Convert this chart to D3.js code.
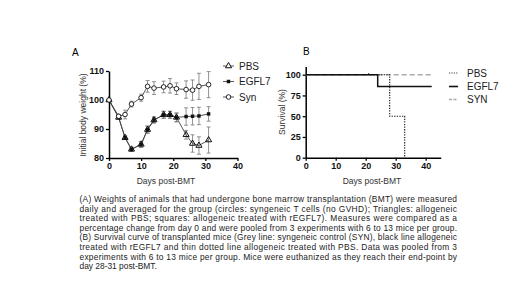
<!DOCTYPE html>
<html><head><meta charset="utf-8">
<script src="https://cdn.jsdelivr.net/npm/d3@7"></script>
<style>body{margin:0;background:#fff}svg{display:block;font-family:"Liberation Sans",Arial,sans-serif}</style>
</head><body><svg id="c" width="520" height="292"></svg>
<script>
// ---- Panel A data ----
const days = [0,3,5,7,10,12,14,17,19,21,24,26,28,31];
const synW   = [100,94.4,95,98.6,100.8,104.7,104.1,104.5,104.9,103.9,103.6,103.4,104.7,105.3];
const synErr = [0,0.5,1.5,1,1.2,2,2.2,2,2.5,2,3,3.5,4.5,4.5];
const pbsW   = [100,94,87,83,84.7,89.8,93.1,94.9,94.9,94,88,85,84.3,86.2];
const pbsErr = [0,0.6,0.6,0.7,1,1.2,1,1.2,1.2,1.5,1.5,3,3,4.5];
const egflW  = [100,94,87,83,84.7,89.8,93.1,94.9,94.9,94,94.3,94.4,94.5,95.2];
const egflErr= [0,0.6,0.6,0.7,1,1.2,1,1.2,1.2,1.5,3,3,3,2.5];
const xTicksA = [0,10,20,30,40];
const yTicksA = [80,90,100,110];
// ---- Panel B data (Kaplan-Meier steps) ----
const survPBS  = [[0,100],[28,100],[28,50],[33,50],[33,0]];
const survEGFL = [[0,100],[24,100],[24,85.7],[42,85.7]];
const survSYN  = [[0,100],[42,100]];
const censorDays = [21];
const xTicksB = [0,10,20,30,40];
const yTicksB = [0,25,50,75,100];
const legendA = ["PBS","EGFL7","Syn"];
const legendB = ["PBS","EGFL7","SYN"];
const caption = [
"(A) Weights of animals that had undergone bone marrow transplantation (BMT) were measured",
"daily and averaged for the group (circles: syngeneic T cells (no GVHD); Triangles: allogeneic",
"treated with PBS; squares: allogeneic treated with rEGFL7). Measures were compared as a",
"percentage change from day 0 and were pooled from 3 experiments with 6 to 13 mice per group.",
"(B) Survival curve of transplanted mice (Grey line: syngeneic control (SYN), black line allogeneic",
"treated with rEGFL7 and thin dotted line allogeneic treated with PBS. Data was pooled from 3",
"experiments with 6 to 13 mice per group. Mice were euthanized as they reach their end-point by",
"day 28-31 post-BMT."
];

const svg = d3.select("#c");

function styleAxis(g){
  g.select(".domain").attr("stroke","#000").attr("stroke-width",1.5);
  g.selectAll(".tick line").attr("stroke","#000").attr("stroke-width",1.3);
  g.selectAll(".tick text").attr("font-size",9).attr("font-weight","bold").attr("fill","#111")
    .attr("font-family","'Liberation Sans',Arial,sans-serif");
}

// ---------- Panel A ----------
const xA = d3.scaleLinear().domain([0,40]).range([109,237.5]);
const yA = d3.scaleLinear().domain([80,110]).range([158,71]);
const gA = svg.append("g");
gA.append("g").attr("transform","translate(0,158)")
  .call(d3.axisBottom(xA).tickValues(xTicksA).tickSize(3).tickSizeOuter(0).tickPadding(2)).call(styleAxis);
gA.append("g").attr("transform","translate(109,0)")
  .call(d3.axisLeft(yA).tickValues(yTicksA).tickSize(3).tickSizeOuter(0).tickPadding(2)).call(styleAxis);
gA.append("text").attr("x",72).attr("y",56).attr("font-size",10).text("A");
gA.append("text").attr("transform","translate(86,115) rotate(-90)").attr("text-anchor","middle")
  .attr("font-size",8.5).attr("fill","#333").text("Initial body weight (%)");
gA.append("text").attr("x",166).attr("y",184).attr("text-anchor","middle")
  .attr("font-size",8.5).attr("fill","#333").text("Days post-BMT");

function series(vals, errs){ return days.map((d,i)=>({d, v:vals[i], e:errs[i]})); }
const sSyn = series(synW,synErr), sPbs = series(pbsW,pbsErr), sEgfl = series(egflW,egflErr);
const lineA = d3.line().x(p=>xA(p.d)).y(p=>yA(p.v));
function errBars(data){
  const g = gA.append("g").attr("stroke","#777").attr("stroke-width",0.8);
  data.filter(p=>p.e>0).forEach(p=>{
    const x=xA(p.d), y1=yA(p.v+p.e), y2=yA(p.v-p.e);
    g.append("line").attr("x1",x).attr("x2",x).attr("y1",y1).attr("y2",y2);
    g.append("line").attr("x1",x-2).attr("x2",x+2).attr("y1",y1).attr("y2",y1);
    g.append("line").attr("x1",x-2).attr("x2",x+2).attr("y1",y2).attr("y2",y2);
  });
}
errBars(sSyn); errBars(sPbs); errBars(sEgfl);
[sSyn,sPbs,sEgfl].forEach(s=>gA.append("path").datum(s).attr("d",lineA)
  .attr("fill","none").attr("stroke","#444").attr("stroke-width",0.9));
const sqSym = d3.symbol().type(d3.symbolSquare).size(12);
const trSym = d3.symbol().type(d3.symbolTriangle).size(16);
gA.append("g").selectAll("path").data(sEgfl).join("path")
  .attr("transform",p=>`translate(${xA(p.d)},${yA(p.v)})`).attr("d",sqSym).attr("fill","#111");
gA.append("g").selectAll("path").data(sPbs).join("path")
  .attr("transform",p=>`translate(${xA(p.d)},${yA(p.v)})`).attr("d",trSym)
  .attr("fill","none").attr("stroke","#111").attr("stroke-width",1);
gA.append("g").selectAll("circle").data(sSyn).join("circle")
  .attr("cx",p=>xA(p.d)).attr("cy",p=>yA(p.v)).attr("r",2.3)
  .attr("fill","#fff").attr("stroke","#111").attr("stroke-width",0.9);

// Legend A
const legAy = [66,81.5,97];
legendA.forEach((name,i)=>{
  const y = legAy[i], g = gA.append("g");
  g.append("line").attr("x1",223).attr("x2",234).attr("y1",y).attr("y2",y).attr("stroke","#444").attr("stroke-width",0.9);
  if(i===0) g.append("path").attr("transform",`translate(228.5,${y})`).attr("d",trSym).attr("fill","#fff").attr("stroke","#111");
  if(i===1) g.append("path").attr("transform",`translate(228.5,${y})`).attr("d",sqSym).attr("fill","#111");
  if(i===2) g.append("circle").attr("cx",228.5).attr("cy",y).attr("r",2.3).attr("fill","#fff").attr("stroke","#111").attr("stroke-width",0.9);
  g.append("text").attr("x",239).attr("y",y+3.5).attr("font-size",10).attr("fill","#222").text(name);
});

// ---------- Panel B ----------
const xB = d3.scaleLinear().domain([0,45]).range([305.7,440.7]);
const yB = d3.scaleLinear().domain([0,110]).range([157.7,66.4]);
const gB = svg.append("g");
gB.append("g").attr("transform","translate(0,157.7)")
  .call(d3.axisBottom(xB).tickValues(xTicksB).tickSize(3).tickSizeOuter(0).tickPadding(2)).call(styleAxis);
gB.append("g").attr("transform","translate(305.7,0)")
  .call(d3.axisLeft(yB).tickValues(yTicksB).tickSize(3).tickSizeOuter(0).tickPadding(2)).call(styleAxis);
gB.append("text").attr("x",303).attr("y",55).attr("font-size",10).text("B");
gB.append("text").attr("transform","translate(285,112) rotate(-90)").attr("text-anchor","middle")
  .attr("font-size",8.5).attr("fill","#333").text("Survival (%)");
gB.append("text").attr("x",372).attr("y",184).attr("text-anchor","middle")
  .attr("font-size",8.5).attr("fill","#333").text("Days post-BMT");
const lineB = d3.line().x(p=>xB(p[0])).y(p=>yB(p[1]));
gB.append("path").datum(survSYN).attr("d",lineB).attr("fill","none")
  .attr("stroke","#aaa").attr("stroke-width",1.5).attr("stroke-dasharray","5,3");
gB.append("path").datum(survPBS).attr("d",lineB).attr("fill","none")
  .attr("stroke","#111").attr("stroke-width",1.1).attr("stroke-dasharray","1.3,1.3");
gB.append("path").datum(survEGFL).attr("d",lineB).attr("fill","none")
  .attr("stroke","#111").attr("stroke-width",1.5);
censorDays.forEach(d=>gB.append("line").attr("x1",xB(d)).attr("x2",xB(d))
  .attr("y1",yB(100)-1.5).attr("y2",yB(100)).attr("stroke","#111").attr("stroke-width",1));

// Legend B
const legBy = [73,86.5,99.5];
legendB.forEach((name,i)=>{
  const y = legBy[i], g = gB.append("g");
  const ln = g.append("line").attr("x1",449).attr("x2",458).attr("y1",y).attr("y2",y);
  if(i===0) ln.attr("stroke","#444").attr("stroke-width",1).attr("stroke-dasharray","1.2,1.2");
  if(i===1) ln.attr("stroke","#111").attr("stroke-width",1.6);
  if(i===2) ln.attr("stroke","#aaa").attr("stroke-width",1.3).attr("stroke-dasharray","3,1.5");
  g.append("text").attr("x",467).attr("y",y+3.5).attr("font-size",10).attr("fill","#222").text(name);
});

// ---------- Caption ----------
const cap = svg.append("g").attr("font-size",8.4).attr("fill","#222");
caption.forEach((t,i)=>{
  const tx = cap.append("text").attr("x",79.5).attr("y",202 + i*9.6).text(t);
  if(i<caption.length-1) tx.attr("textLength",377.5).attr("lengthAdjust","spacing");
});
</script></body></html>
